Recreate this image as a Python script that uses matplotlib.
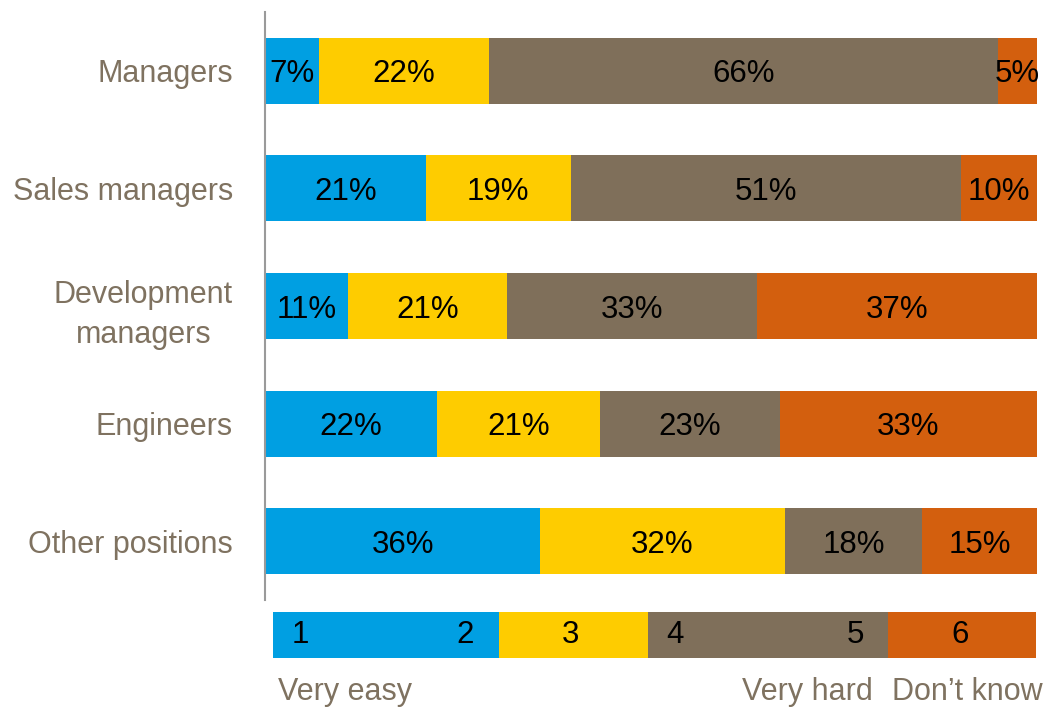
import matplotlib.pyplot as plt
import numpy as np

plt.rcParams['font.family'] = ['Liberation Sans', 'DejaVu Sans']

# survey data
groups = ['Managers', 'Sales managers', 'Development\nmanagers', 'Engineers', 'Other positions']
easy = [7, 21, 11, 22, 36]
medium = [22, 19, 21, 21, 32]
hard = [66, 51, 33, 23, 18]
dont_know = [5, 10, 37, 33, 15]

colors = ['#009fe2', '#fecc00', '#7f6f5a', '#d35f0e']
label_color = '#7f7260'

# scale strip
scale_numbers = ['1', '2', '3', '4', '5', '6']
scale_texts = ['Very easy', 'Very hard', 'Don\u2019t know']

fig = plt.figure(figsize=(10.46, 7.09), dpi=100)
ax = fig.add_axes([265 / 1046, 1 - 600 / 709, 772 / 1046, 588 / 709])

data = np.array([easy, medium, hard, dont_know], dtype=float)
shares = data / data.sum(axis=0) * 100
y = np.arange(len(groups))
left = np.zeros(len(groups))
for i in range(4):
    ax.barh(y, shares[i], left=left, height=0.56, color=colors[i])
    for j in range(len(groups)):
        ax.text(left[j] + shares[i][j] / 2, y[j] + 0.03, f'{int(data[i][j])}%',
                ha='center', va='center', fontsize=22.5, color='black')
    left = left + shares[i]

ax.set_xlim(0, 100)
ax.set_ylim(len(groups) - 0.5, -0.5)
ax.set_yticks(y)
ax.set_yticklabels(groups, fontsize=22, color=label_color)
for lab in ax.get_yticklabels():
    lab.set_multialignment('center')
    lab.set_linespacing(1.45)
ax.tick_params(axis='y', length=0, pad=23)
ax.set_xticks([])
for s in ['top', 'right', 'bottom']:
    ax.spines[s].set_visible(False)
ax.spines['left'].set_color('#9a9a9a')
ax.spines['left'].set_linewidth(1.5)

# scale strip at the bottom
sax = fig.add_axes([273 / 1046, 1 - 658 / 709, 763 / 1046, 46 / 709])
widths = [226, 149, 240, 148]
sleft = 0
for w, c in zip(widths, colors):
    sax.barh(0, w, left=sleft, height=1, color=c)
    sleft += w
num_x = [27, 192, 297, 402, 582, 687]
for n, xx in zip(scale_numbers, num_x):
    sax.text(xx, 0.0, n, ha='center', va='center', fontsize=22.5, color='black')
sax.set_xlim(0, sum(widths))
sax.set_ylim(-0.5, 0.5)
sax.axis('off')

fig.text(278 / 1046, 1 - 692 / 709, scale_texts[0], ha='left', va='center', fontsize=22, color=label_color)
fig.text(873 / 1046, 1 - 692 / 709, scale_texts[1], ha='right', va='center', fontsize=22, color=label_color)
fig.text(1043 / 1046, 1 - 692 / 709, scale_texts[2], ha='right', va='center', fontsize=22, color=label_color)

plt.savefig('out.png', dpi=100)
